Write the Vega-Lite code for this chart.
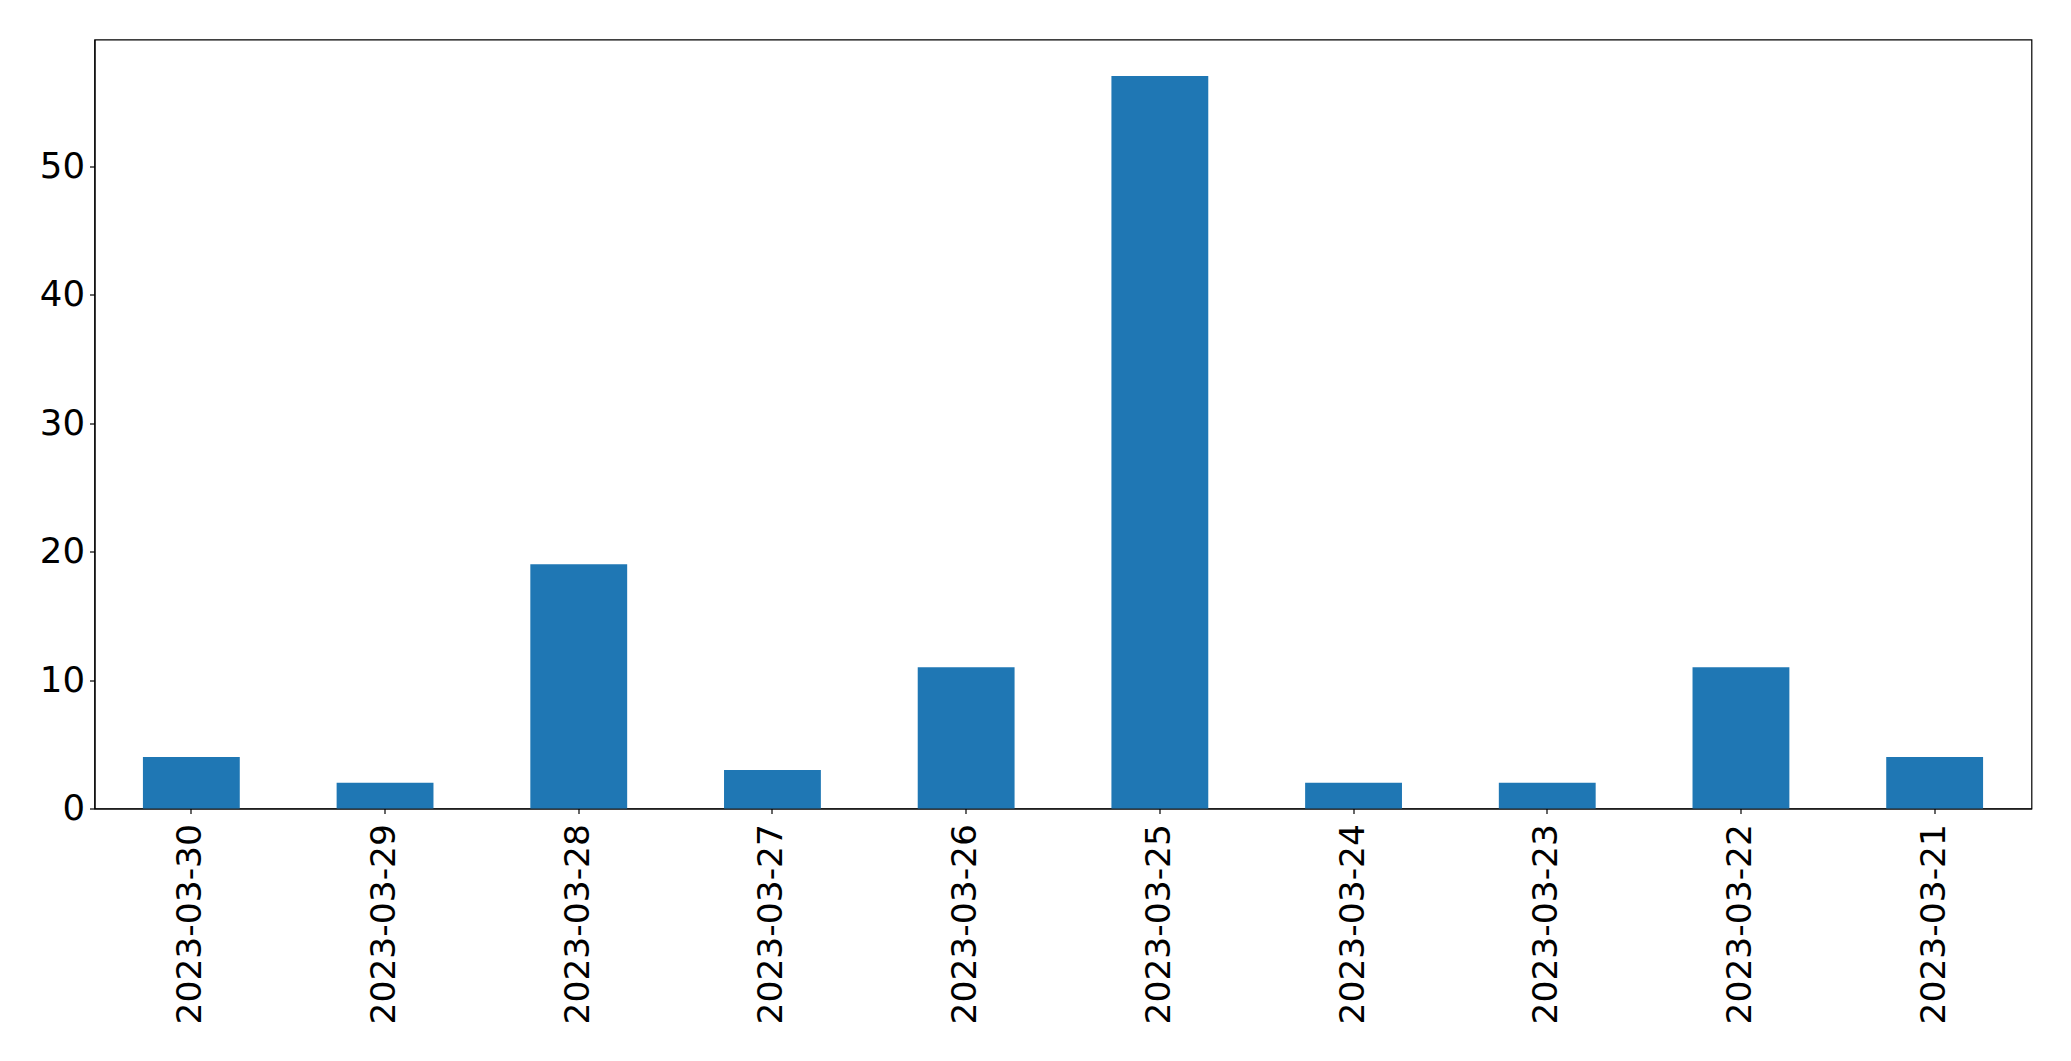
{
  "$schema": "https://vega.github.io/schema/vega-lite/v6.json",
  "width": 1937,
  "height": 769,
  "autosize": {"type": "none"},
  "padding": {"left": 94.5, "top": 39.5, "right": 39.5, "bottom": 252.5},
  "background": "white",
  "config": {
    "view": {"stroke": "#000", "strokeWidth": 1.2},
    "font": "DejaVu Sans"
  },
  "data": {
    "values": [
      {"date": "2023-03-30", "count": 4},
      {"date": "2023-03-29", "count": 2},
      {"date": "2023-03-28", "count": 19},
      {"date": "2023-03-27", "count": 3},
      {"date": "2023-03-26", "count": 11},
      {"date": "2023-03-25", "count": 57},
      {"date": "2023-03-24", "count": 2},
      {"date": "2023-03-23", "count": 2},
      {"date": "2023-03-22", "count": 11},
      {"date": "2023-03-21", "count": 4}
    ]
  },
  "mark": {"type": "bar", "color": "#1f77b4"},
  "encoding": {
    "x": {
      "field": "date",
      "type": "nominal",
      "sort": null,
      "scale": {"paddingInner": 0.5, "paddingOuter": 0.25},
      "axis": {
        "title": null,
        "labelAngle": -90,
        "labelFontSize": 34.5,
        "labelColor": "#000",
        "labelFont": "DejaVu Sans",
        "labelPadding": 10,
        "labelLimit": 0,
        "labelOverlap": false,
        "tickColor": "#000",
        "tickSize": 5,
        "tickWidth": 1.2,
        "domainColor": "#000",
        "domainWidth": 1.2,
        "grid": false
      }
    },
    "y": {
      "field": "count",
      "type": "quantitative",
      "scale": {"domain": [0, 59.85], "nice": false, "zero": true},
      "axis": {
        "title": null,
        "values": [0, 10, 20, 30, 40, 50],
        "labelFontSize": 35.5,
        "labelColor": "#000",
        "labelFont": "DejaVu Sans",
        "labelPadding": 5,
        "tickColor": "#000",
        "tickSize": 5,
        "tickWidth": 1.2,
        "domainColor": "#000",
        "domainWidth": 1.2,
        "grid": false
      }
    }
  }
}
